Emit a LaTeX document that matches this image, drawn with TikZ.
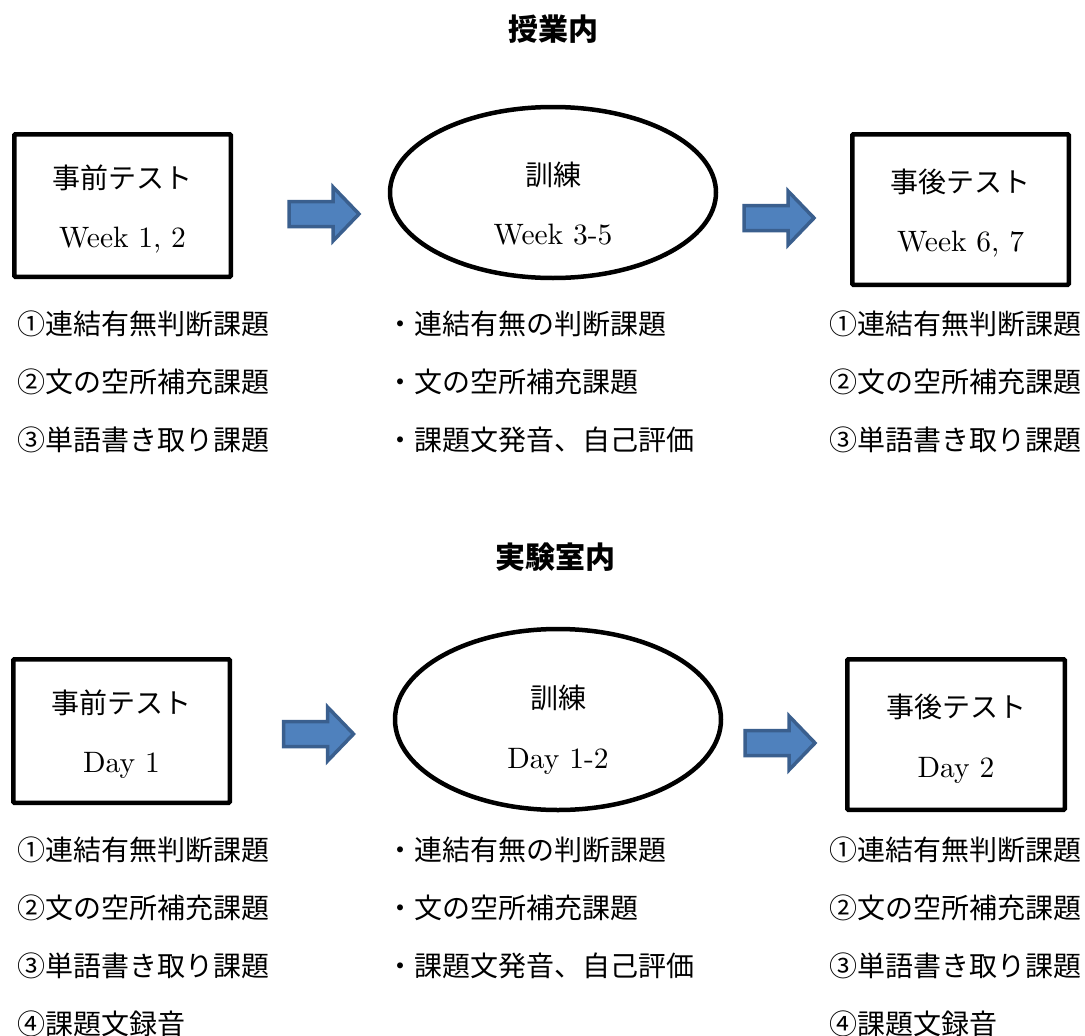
\documentclass[tikz,border=0pt]{standalone}
\usepackage{fontspec}
\newfontfamily\jpfont{Noto Sans CJK JP}
\newfontfamily\latfont{lmroman10-regular}[Extension=.otf]
\usetikzlibrary{shapes.geometric}
\definecolor{arrowfill}{HTML}{4F81BD}
\definecolor{arrowline}{HTML}{3A5F8E}
\tikzset{
  frame/.style={draw=black, line width=4.5pt, rounded corners=1pt, inner sep=0pt},
  oval/.style={ellipse, draw=black, line width=4.5pt, inner sep=0pt},
  jp/.style={font=\jpfont\fontsize{28}{34}\selectfont, inner sep=0pt, anchor=base},
  jpl/.style={font=\jpfont\fontsize{28}{34}\selectfont, inner sep=0pt, anchor=base west},
  lat/.style={font=\latfont\fontsize{29.5}{35}\selectfont, inner sep=0pt, anchor=base},
  heading/.style={font=\jpfont\bfseries\fontsize{30}{36}\selectfont, inner sep=0pt, anchor=base},
  blockarrow/.pic={\draw[fill=arrowfill, draw=arrowline, line width=3.5pt, line join=miter]
     (-35,-12.5) -- (9,-12.5) -- (9,-27) -- (35,0) -- (9,27) -- (9,12.5) -- (-35,12.5) -- cycle;}
}
\begin{document}
\begin{tikzpicture}[x=1pt,y=-1pt]
\useasboundingbox[fill=white] (0,0) rectangle (1085,1036);

% ---------- top section ----------
\node[heading] (t1) at (553,40.5) {授業内};

\node[frame, minimum width=216.5pt, minimum height=142.5pt] (b1) at (122.5,205.5) {};
\node[jp] (b1a) at (122.5,188) {事前テスト};
\node[lat] (b1b) at (122.5,247) {Week 1, 2};

\pic at (324,214) {blockarrow};

\node[oval, minimum width=326pt, minimum height=171pt] (e1) at (553,192.5) {};
\node[jp] (e1a) at (553,185) {訓練};
\node[lat] (e1b) at (553,244) {Week 3-5};

\pic at (779,218) {blockarrow};

\node[frame, minimum width=216.5pt, minimum height=150.5pt] (b3) at (960.5,209.5) {};
\node[jp] (b3a) at (960.5,192) {事後テスト};
\node[lat] (b3b) at (960.5,251) {Week 6, 7};

\node[jpl] (l1) at (17,334) {①連結有無判断課題};
\node[jpl] (l2) at (17,392) {②文の空所補充課題};
\node[jpl] (l3) at (17,450) {③単語書き取り課題};

\node[jpl] (m1) at (386,334) {・連結有無の判断課題};
\node[jpl] (m2) at (386,392) {・文の空所補充課題};
\node[jpl] (m3) at (386,450) {・課題文発音、自己評価};

\node[jpl] (r1) at (829,334) {①連結有無判断課題};
\node[jpl] (r2) at (829,392) {②文の空所補充課題};
\node[jpl] (r3) at (829,450) {③単語書き取り課題};

% ---------- bottom section ----------
\node[heading] (t2) at (555,568) {実験室内};

\node[frame, minimum width=216.5pt, minimum height=143.5pt] (b4) at (121.5,731) {};
\node[jp] (b4a) at (121.5,713) {事前テスト};
\node[lat] (b4b) at (121.5,772) {Day 1};

\pic at (318.5,734) {blockarrow};

\node[oval, minimum width=326pt, minimum height=181pt] (e2) at (558,719.5) {};
\node[jp] (e2a) at (558,708) {訓練};
\node[lat] (e2b) at (558,768) {Day 1-2};

\pic at (780,743) {blockarrow};

\node[frame, minimum width=217.5pt, minimum height=150.5pt] (b6) at (956,734.5) {};
\node[jp] (b6a) at (956,717) {事後テスト};
\node[lat] (b6b) at (956,777) {Day 2};

\node[jpl] (l4) at (17,860) {①連結有無判断課題};
\node[jpl] (l5) at (17,918) {②文の空所補充課題};
\node[jpl] (l6) at (17,976) {③単語書き取り課題};
\node[jpl] (l7) at (17,1034) {④課題文録音};

\node[jpl] (m4) at (386,860) {・連結有無の判断課題};
\node[jpl] (m5) at (386,918) {・文の空所補充課題};
\node[jpl] (m6) at (386,976) {・課題文発音、自己評価};

\node[jpl] (r4) at (829,860) {①連結有無判断課題};
\node[jpl] (r5) at (829,918) {②文の空所補充課題};
\node[jpl] (r6) at (829,976) {③単語書き取り課題};
\node[jpl] (r7) at (829,1034) {④課題文録音};
\end{tikzpicture}
\end{document}
